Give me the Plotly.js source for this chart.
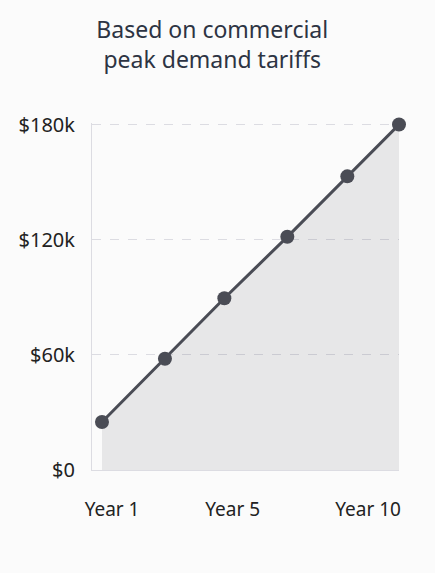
<!DOCTYPE html>
<html><head><meta charset="utf-8">
<script src="https://cdn.plot.ly/plotly-3.0.1.min.js"></script>
<style>html,body{margin:0;padding:0;background:#fbfbfb;}#chart{width:435px;height:573px;}</style>
</head><body><div id="chart"></div>
<script>
const pointPos = [0, 1.06, 2.06, 3.12, 4.13, 5];
const savings = [25000, 58000, 89500, 121500, 153000, 180000];
const yTickVals = [0, 60000, 120000, 180000];
const yTickText = ["$0", "$60k", "$120k", "$180k"];
const xTickVals = [0.17, 2.2, 4.48];
const xTickText = ["Year 1", "Year 5", "Year 10"];
const titleText = "Based on commercial<br>peak demand tariffs";

const trace = {
  x: pointPos, y: savings, type: 'scatter', mode: 'lines+markers',
  fill: 'tozeroy', fillcolor: 'rgba(60,60,70,0.1)',
  line: {color: '#4a4c55', width: 3},
  marker: {color: '#4a4c55', size: 14},
  cliponaxis: false,
  hoverinfo: 'skip'
};
const layout = {
  width: 435, height: 573,
  paper_bgcolor: '#fbfbfb', plot_bgcolor: '#fbfbfb',
  margin: {l: 92, r: 36, t: 123, b: 103},
  showlegend: false,
  title: {text: titleText, font: {family: 'Noto Sans, sans-serif', size: 23, color: '#2d3443'},
    x: 0.488, xanchor: 'center', y: 0.933, yanchor: 'top', yref: 'container'},
  xaxis: {range: [-0.168, 5], tickvals: xTickVals, ticktext: xTickText,
    showgrid: false, zeroline: false, showline: true, linecolor: '#dcdce2', linewidth: 1,
    ticks: '', ticklabelstandoff: 22,
    tickfont: {family: 'Noto Sans, sans-serif', size: 19, color: '#222'}},
  yaxis: {range: [0, 180800], tickvals: yTickVals, ticktext: yTickText,
    showgrid: true, gridcolor: '#dcdce2', griddash: 'dash', gridwidth: 1,
    zeroline: false, showline: true, linecolor: '#dcdce2', linewidth: 1,
    ticks: '', ticklabelstandoff: 12,
    tickfont: {family: 'Noto Sans, sans-serif', size: 20, color: '#222'}}
};
Plotly.newPlot('chart', [trace], layout, {displayModeBar: false, staticPlot: true});
</script></body></html>
